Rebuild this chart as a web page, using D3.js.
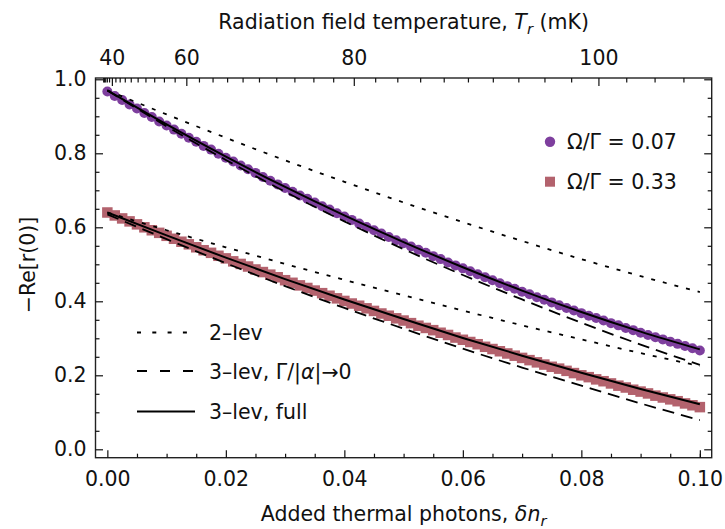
<!DOCTYPE html>
<html><head><meta charset="utf-8">
<script src="https://cdn.jsdelivr.net/npm/d3@7"></script>
<style>
body{margin:0;background:#fff}
text{font-family:"DejaVu Sans",sans-serif;fill:#111}
</style>
</head><body>
<svg id="chart" width="725" height="529"></svg>
<script>
// ---------- data ----------
const seriesLabels = ["Ω/Γ = 0.07", "Ω/Γ = 0.33"];
const markerStep = 0.00125; // spacing of simulated points in δn_r
const purpleMarkers = [0.967,0.955,0.944,0.932,0.921,0.909,0.898,0.886,0.875,0.864,
 0.853,0.842,0.831,0.820,0.810,0.799,0.788,0.778,0.767,0.757,
 0.747,0.736,0.726,0.716,0.706,0.696,0.686,0.677,0.667,0.657,
 0.648,0.638,0.629,0.620,0.610,0.601,0.592,0.583,0.574,0.565,
 0.557,0.548,0.539,0.531,0.522,0.514,0.505,0.497,0.489,0.481,
 0.473,0.465,0.457,0.449,0.441,0.434,0.426,0.419,0.411,0.404,
 0.397,0.389,0.382,0.375,0.368,0.361,0.355,0.348,0.341,0.335,
 0.328,0.322,0.315,0.309,0.303,0.297,0.291,0.285,0.279,0.273,0.267];
const pinkMarkers = [0.640,0.632,0.624,0.616,0.608,0.600,0.592,0.585,0.577,0.569,
 0.561,0.554,0.546,0.538,0.531,0.523,0.516,0.508,0.501,0.494,
 0.486,0.479,0.472,0.465,0.457,0.450,0.443,0.436,0.429,0.422,
 0.415,0.408,0.401,0.394,0.388,0.381,0.374,0.367,0.361,0.354,
 0.348,0.341,0.334,0.328,0.322,0.315,0.309,0.302,0.296,0.290,
 0.284,0.277,0.271,0.265,0.259,0.253,0.247,0.241,0.235,0.229,
 0.223,0.218,0.212,0.206,0.200,0.195,0.189,0.184,0.178,0.172,
 0.167,0.161,0.156,0.151,0.145,0.140,0.135,0.130,0.124,0.119,0.114];

const lineX        = [0, 0.01, 0.02, 0.03, 0.04, 0.05, 0.06, 0.07, 0.08, 0.09, 0.10];
const purpleFull   = [0.970,0.878,0.791,0.709,0.632,0.560,0.492,0.429,0.371,0.318,0.270];
const purpleApprox = [0.970,0.873,0.782,0.696,0.616,0.541,0.471,0.405,0.342,0.283,0.228];
const purpleTwoLev = [0.970,0.905,0.842,0.781,0.723,0.667,0.614,0.563,0.514,0.468,0.425];
const pinkFull     = [0.640,0.578,0.518,0.460,0.405,0.352,0.301,0.253,0.207,0.163,0.122];
const pinkApprox   = [0.635,0.568,0.503,0.441,0.382,0.326,0.272,0.221,0.172,0.124,0.079];
const pinkTwoLev   = [0.640,0.592,0.546,0.501,0.458,0.416,0.375,0.335,0.297,0.260,0.225];

const xTicks = [0, 0.02, 0.04, 0.06, 0.08, 0.10];
const xTickLabels = ["0.00","0.02","0.04","0.06","0.08","0.10"];
const xMinorTicks = [0.005,0.01,0.015,0.025,0.03,0.035,0.045,0.05,0.055,0.065,0.07,0.075,0.085,0.09,0.095,0.1];
const yTicks = [0, 0.2, 0.4, 0.6, 0.8, 1.0];
const yTickLabels = ["0.0","0.2","0.4","0.6","0.8","1.0"];
const yMinorTicks = [0.05,0.1,0.15,0.25,0.3,0.35,0.45,0.5,0.55,0.65,0.7,0.75,0.85,0.9,0.95];
const topTicks = [40, 60, 80, 100];           // T_r in mK
const topMinorTicks = [30,32,34,36,38,42,44,46,48,50,52,54,56,58,62,64,66,68,70,72,74,76,78,82,84,86,88,90,92,94,96,98,102,104,106];
const legendLines = ["2–lev", "3–lev, Γ/|α|→0", "3–lev, full"];

// photon number conversion for top axis: δn_r = n(T) - n0
const hfOverK = 256;    // mK
const nBase = 0.0009;
const dn = T => 1 / (Math.exp(hfOverK / T) - 1) - nBase;

// ---------- layout ----------
const colPurple = "#7e3f9e", colPink = "#b3626d";
const svg = d3.select("#chart");
const L = 95.5, R = 711.7, T = 78, B = 457.7;
const x = d3.scaleLinear().domain([-0.002, 0.102]).range([L, R]);
const y = d3.scaleLinear().domain([-0.0227, 1.0035]).range([B, T]);
const FS = 20.5;

// markers
const plot = svg.append("g");
plot.selectAll("circle.pm").data(purpleMarkers).join("circle")
  .attr("cx", (d,i) => x(i*markerStep)).attr("cy", d => y(d)).attr("r", 5)
  .attr("fill", colPurple);
const sq = 10.5;
plot.selectAll("rect.km").data(pinkMarkers).join("rect")
  .attr("x", (d,i) => x(i*markerStep) - sq/2).attr("y", d => y(d) - sq/2)
  .attr("width", sq).attr("height", sq).attr("fill", colPink);

// lines
const line = d3.line().x((d,i) => x(lineX[i])).y(d => y(d)).curve(d3.curveMonotoneX);
function drawLine(vals, dash, w) {
  plot.append("path").attr("d", line(vals)).attr("fill", "none")
    .attr("stroke", "#000").attr("stroke-width", w)
    .attr("stroke-dasharray", dash);
}
drawLine(purpleTwoLev, "4,8", 1.8);
drawLine(pinkTwoLev, "4,8", 1.8);
drawLine(purpleApprox, "12,7", 1.8);
drawLine(pinkApprox, "12,7", 1.8);
drawLine(purpleFull, null, 2);
drawLine(pinkFull, null, 2);

// frame
svg.append("rect").attr("x", L).attr("y", T).attr("width", R-L).attr("height", B-T)
  .attr("fill", "none").attr("stroke", "#222").attr("stroke-width", 1.4);

function styleAxis(g) {
  g.select(".domain").remove();
  g.selectAll(".tick line").attr("stroke", "#111").attr("stroke-width", 1.2);
  g.selectAll("text").style("font-family", "DejaVu Sans").style("font-size", FS + "px").attr("fill", "#111");
}
// bottom
svg.append("g").attr("transform", `translate(0,${B})`)
  .call(d3.axisBottom(x).tickValues(xTicks).tickFormat((d,i) => xTickLabels[i]).tickSize(-7.5).tickPadding(14))
  .call(styleAxis);
svg.append("g").attr("transform", `translate(0,${B})`)
  .call(d3.axisBottom(x).tickValues(xMinorTicks).tickFormat("").tickSize(-4)).call(styleAxis);
// left
svg.append("g").attr("transform", `translate(${L},0)`)
  .call(d3.axisLeft(y).tickValues(yTicks).tickFormat((d,i) => yTickLabels[i]).tickSize(-7.5).tickPadding(9))
  .call(styleAxis);
svg.append("g").attr("transform", `translate(${L},0)`)
  .call(d3.axisLeft(y).tickValues(yMinorTicks).tickFormat("").tickSize(-4)).call(styleAxis);
// right
svg.append("g").attr("transform", `translate(${R},0)`)
  .call(d3.axisRight(y).tickValues(yTicks).tickFormat("").tickSize(-7.5)).call(styleAxis);
svg.append("g").attr("transform", `translate(${R},0)`)
  .call(d3.axisRight(y).tickValues(yMinorTicks).tickFormat("").tickSize(-4)).call(styleAxis);
// top (temperature)
svg.append("g").attr("transform", `translate(0,${T})`)
  .call(d3.axisTop(x).tickValues(topTicks.map(dn)).tickFormat((d,i) => topTicks[i]).tickSize(-8).tickPadding(13))
  .call(styleAxis);
svg.append("g").attr("transform", `translate(0,${T})`)
  .call(d3.axisTop(x).tickValues(topMinorTicks.map(dn)).tickFormat("").tickSize(-4.5)).call(styleAxis);

// axis titles
const tt = svg.append("text").attr("x", (L+R)/2).attr("y", 29).attr("text-anchor", "middle")
  .style("font-size", FS + "px");
tt.append("tspan").text("Radiation field temperature, ");
tt.append("tspan").attr("font-style", "italic").text("T");
tt.append("tspan").attr("font-style", "italic").attr("font-size", "0.72em").attr("dy", 5).text("r");
tt.append("tspan").attr("dy", -5).text(" (mK)");

const bt = svg.append("text").attr("x", (L+R)/2).attr("y", 521).attr("text-anchor", "middle")
  .style("font-size", FS + "px");
bt.append("tspan").text("Added thermal photons, ");
bt.append("tspan").attr("font-style", "italic").text("δn");
bt.append("tspan").attr("font-style", "italic").attr("font-size", "0.72em").attr("dy", 5).text("r");

svg.append("text").attr("transform", "translate(35,265) rotate(-90)").attr("text-anchor", "middle")
  .style("font-size", FS + "px").text("−Re[r(0)]");

// series legend
const lg = svg.append("g");
lg.append("circle").attr("cx", 550).attr("cy", 141.7).attr("r", 5.2).attr("fill", colPurple);
lg.append("rect").attr("x", 545).attr("y", 176.7).attr("width", 10).attr("height", 10).attr("fill", colPink);
lg.append("text").attr("x", 567).attr("y", 148.5).style("font-size", FS + "px").text(seriesLabels[0]);
lg.append("text").attr("x", 567).attr("y", 188.5).style("font-size", FS + "px").text(seriesLabels[1]);

// line-style legend
const styles = [{dash:"4,11.3", y:332.5}, {dash:"10,13", y:371}, {dash:null, y:411.5}];
const ends = [187, 195, 195];
styles.forEach((s, i) => {
  lg.append("line").attr("x1", 137).attr("x2", ends[i]).attr("y1", s.y).attr("y2", s.y)
    .attr("stroke", "#000").attr("stroke-width", 1.8).attr("stroke-dasharray", s.dash);
});
lg.append("text").attr("x", 209).attr("y", 339.5).style("font-size", FS + "px").text(legendLines[0]);
const l2 = lg.append("text").attr("x", 209).attr("y", 378.5).style("font-size", FS + "px");
l2.append("tspan").text("3–lev, Γ/|");
l2.append("tspan").attr("font-style", "italic").text("α");
l2.append("tspan").text("|→0");
lg.append("text").attr("x", 209).attr("y", 418.5).style("font-size", FS + "px").text(legendLines[2]);
</script>
</body></html>
